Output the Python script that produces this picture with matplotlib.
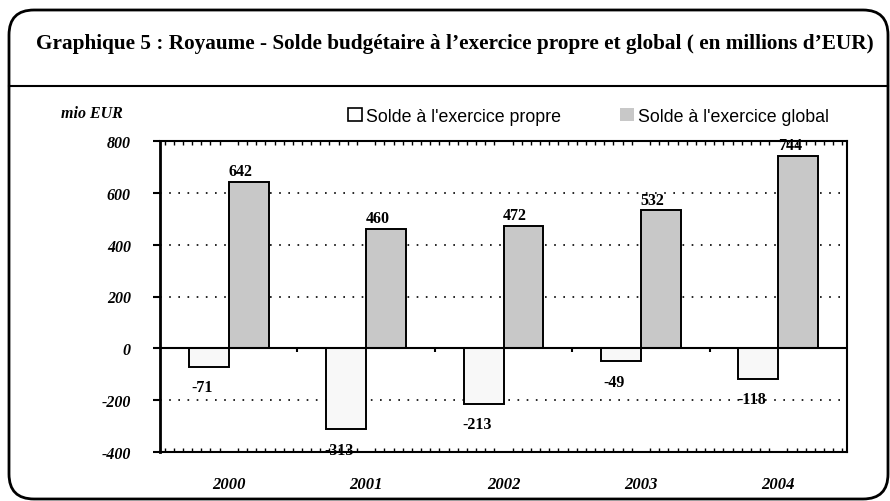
import numpy as np
import matplotlib.pyplot as plt
from matplotlib.patches import FancyBboxPatch, Patch
from matplotlib.ticker import MultipleLocator

plt.rcParams['axes.unicode_minus'] = False

years = ['2000', '2001', '2002', '2003', '2004']
solde_propre = [-71, -313, -213, -49, -118]
solde_global = [642, 460, 472, 532, 744]

serif = 'Liberation Serif'
sans = 'Liberation Sans'

fig = plt.figure(figsize=(8.9, 5.02), dpi=100)

# outer rounded frame + title separator (pixel coords)
frame = FancyBboxPatch((9, 2), 879, 489, boxstyle='round,pad=0,rounding_size=25',
                       transform=None, fill=False, lw=2, ec='black', zorder=0)
fig.patches.append(frame)
fig.add_artist(plt.Line2D([9 / 890, 888 / 890], [1 - 87 / 502] * 2,
                          transform=fig.transFigure, color='black', lw=1.5))

fig.text(0.511, 1 - 44 / 502,
         "Graphique 5 : Royaume - Solde budgétaire à l’exercice propre et global ( en millions d’EUR)",
         ha='center', va='center', fontsize=15.3, fontweight='bold', family=serif)

ax = fig.add_axes([160 / 890, 1 - 453 / 502, 687 / 890, 311 / 502])
x = np.arange(len(years))
w = 0.29
ax.bar(x - w / 2, solde_propre, w, color='#f8f8f8', edgecolor='black', lw=1.4, zorder=3)
ax.bar(x + w / 2, solde_global, w, color='#c8c8c8', edgecolor='black', lw=1.4, zorder=3)

ax.set_xlim(-0.5, len(years) - 0.5)
ax.set_ylim(-400, 800)
ax.set_yticks(range(-400, 801, 200))
ax.yaxis.grid(True, color='black', lw=1.2, ls=(0, (1, 4.5)), zorder=1)
ax.axhline(0, color='black', lw=1.5, zorder=4)
ax.vlines(x[:-1] + 0.5, -15, 0, color='black', lw=1.5, zorder=4)

ax.set_yticklabels([str(t) for t in range(-400, 801, 200)], family=serif,
                   fontsize=11.5, fontweight='bold', style='italic')
ax.tick_params(axis='y', direction='out', length=5, width=1.5, pad=16)

ax.set_xticks(x)
ax.set_xticklabels(years, family=serif, fontsize=12, fontweight='bold', style='italic')
ax.tick_params(axis='x', which='major', length=0, pad=17)
ax.xaxis.set_minor_locator(MultipleLocator(1 / 15))
ax.tick_params(axis='x', which='minor', direction='in', length=3, width=1,
               top=True, bottom=True)

for s in ax.spines.values():
    s.set_linewidth(1.5)
ax.spines['left'].set_linewidth(2)

# value labels
for xi, v in zip(x - w / 2 - 0.05, solde_propre):
    ax.annotate(str(v), (xi, v), xytext=(0, -9), textcoords='offset points',
                ha='center', va='top', family=serif, fontsize=11.5, fontweight='bold', zorder=5)
for xi, v in zip(x + w / 2 - 0.06, solde_global):
    ax.annotate(str(v), (xi, v), xytext=(0, 2), textcoords='offset points',
                ha='center', va='bottom', family=serif, fontsize=11.5, fontweight='bold', zorder=5)

fig.text(61 / 890, 1 - 114 / 502, 'mio EUR', ha='left', va='center', family=serif,
         fontsize=11.5, fontweight='bold', style='italic')

handles = [Patch(facecolor='white', edgecolor='black', lw=1.2),
           Patch(facecolor='#c8c8c8', edgecolor='none')]
fig.legend(handles, ["Solde à l'exercice propre", "Solde à l'exercice global"],
           loc='center left', bbox_to_anchor=(332 / 890, 1 - 117 / 502), ncol=2,
           frameon=False, prop={'family': sans, 'size': 12.8},
           handlelength=0.8, handleheight=0.8, handletextpad=0.22, columnspacing=3.3)

fig.savefig('out.png', dpi=100)
